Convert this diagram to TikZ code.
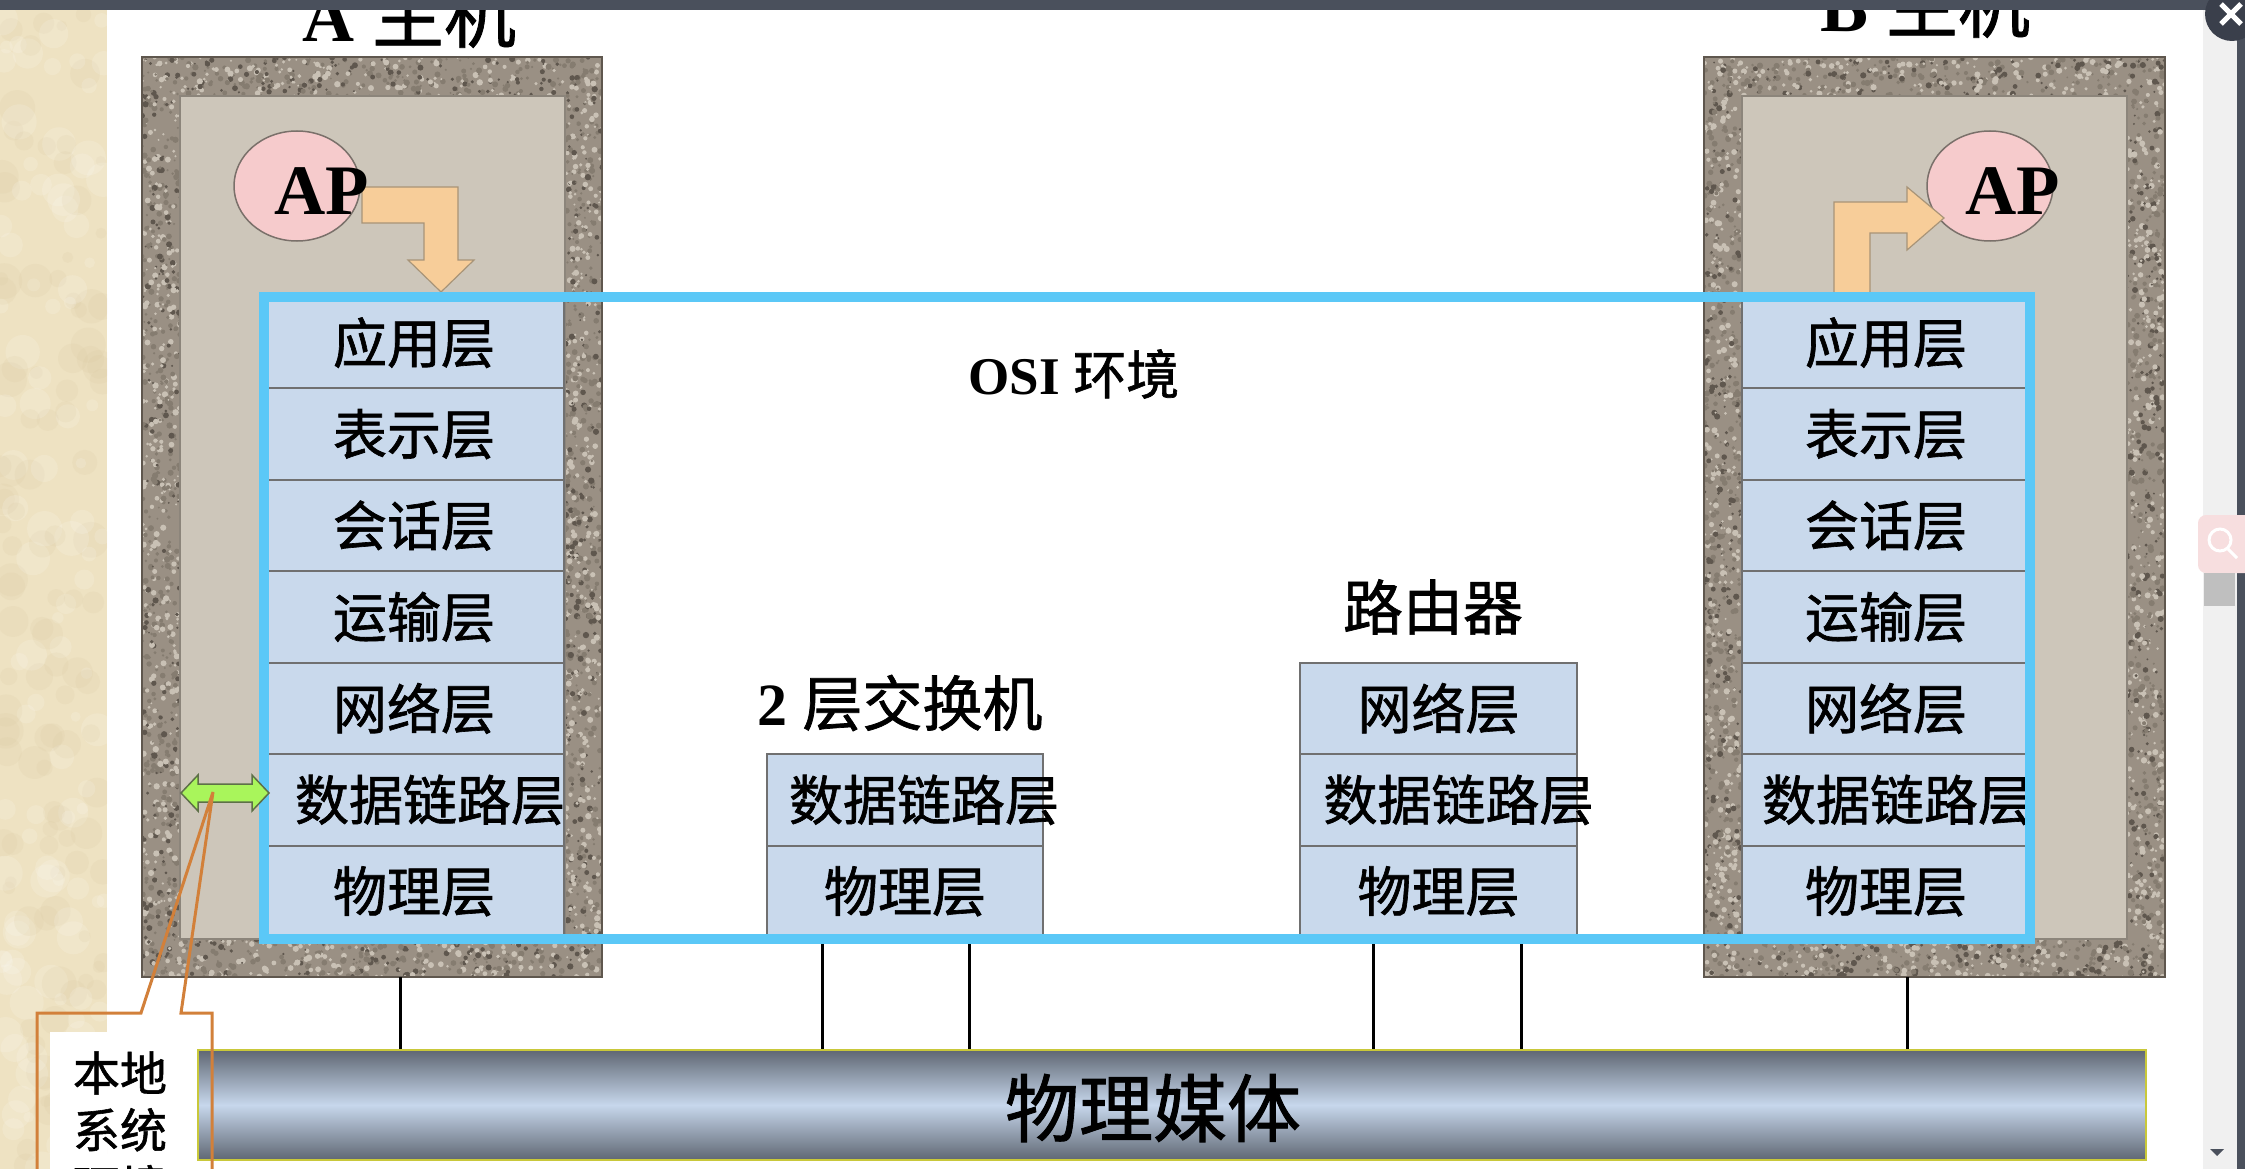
\documentclass[tikz,border=0pt]{standalone}
\usepackage{fontspec}
\setmainfont{Liberation Serif}
\newfontfamily\cjk[FakeBold=1.2]{Noto Sans CJK SC}
\usetikzlibrary{shapes.geometric}
\definecolor{beigeC}{HTML}{EEE2C2}
\definecolor{beigeD}{HTML}{D8C79F}
\definecolor{granBase}{HTML}{9A9084}
\definecolor{granL}{HTML}{C9C1B5}
\definecolor{granD}{HTML}{5F574E}
\definecolor{granM}{HTML}{857C70}
\definecolor{innerC}{HTML}{CDC6BA}
\definecolor{innerLine}{HTML}{8C857B}
\definecolor{layerfill}{HTML}{C9D9EC}
\definecolor{layerline}{HTML}{707070}
\definecolor{osiblue}{HTML}{5BC8F7}
\definecolor{apfill}{HTML}{F6CBCC}
\definecolor{apline}{HTML}{7A706A}
\definecolor{orfill}{HTML}{F7CD99}
\definecolor{orline}{HTML}{A89478}
\definecolor{greenF}{HTML}{A9F55B}
\definecolor{greenL}{HTML}{5E7048}
\definecolor{mediaTop}{HTML}{5F6773}
\definecolor{mediaMid}{HTML}{C7D7EC}
\definecolor{mediaLine}{HTML}{C9C83A}
\definecolor{calloutC}{HTML}{D2803A}
\definecolor{uidark}{HTML}{4A505C}
\definecolor{uilight}{HTML}{F0F0F0}
\definecolor{pinkui}{HTML}{F7DEDF}
\definecolor{closeC}{HTML}{3A3F4B}
\newcommand\granitestrip[5]{%
  \foreach \k in {1,...,#5}{%
    \pgfmathsetmacro\gx{#1+(#3-#1)*rnd}%
    \pgfmathsetmacro\gy{#2+(#4-#2)*rnd}%
    \pgfmathsetmacro\gr{1.0+2.2*rnd}%
    \pgfmathsetmacro\gc{rnd}%
    \ifdim\gc pt<0.38pt
      \fill[granL] (\gx,\gy) circle (\gr pt);
    \else\ifdim\gc pt<0.78pt
      \fill[granM] (\gx,\gy) circle (\gr pt);
    \else
      \fill[granD] (\gx,\gy) circle (\gr pt);
    \fi\fi
  }}
\tikzset{
  hostouter/.style={rectangle, fill=granBase, inner sep=0pt},
  hostborder/.style={draw=granD, line width=1.5pt},
  hostinner/.style={rectangle, fill=innerC, draw=innerLine, line width=1.5pt, inner sep=0pt},
  apcirc/.style={ellipse, fill=apfill, draw=apline, line width=1.5pt, minimum width=126pt, minimum height=110pt, inner sep=0pt},
  aptext/.style={font=\bfseries\fontsize{71}{80}\selectfont, inner sep=0pt},
  orarrow/.style={fill=orfill, draw=orline, line width=1.2pt},
  layerbox/.style={rectangle, draw=layerline, line width=2pt, fill=layerfill, minimum height=91.43pt, inner sep=0pt},
  layertext/.style={font=\cjk\fontsize{54}{60}\selectfont, inner sep=0pt},
  titletext/.style={font=\fontsize{60}{66}\selectfont, inner sep=0pt},
  osibox/.style={rectangle, draw=osiblue, line width=10pt, inner sep=0pt},
  conn/.style={draw=black, line width=3pt},
  media/.style={rectangle, top color=mediaTop, bottom color=mediaTop, middle color=mediaMid, draw=mediaLine, line width=2.5pt, inner sep=0pt},
  greenarrow/.style={fill=greenF, draw=greenL, line width=1.5pt},
  callout/.style={draw=calloutC, line width=3pt},
}
\begin{document}
\begin{tikzpicture}[x=1pt,y=-1pt]
\useasboundingbox (0,0) rectangle (2245,1169);
\fill[white] (0,0) rectangle (2245,1169);
% beige strip at the left
\fill[beigeC] (0,0) rectangle (107,1169);
\begin{scope}
  \clip (0,0) rectangle (107,1169);
  \pgfmathsetseed{3}
  \foreach \k in {1,...,220}{%
    \pgfmathsetmacro\gx{107*rnd}%
    \pgfmathsetmacro\gy{1169*rnd}%
    \pgfmathsetmacro\gr{5+13*rnd}%
    \pgfmathsetmacro\gc{rnd}%
    \ifdim\gc pt<0.5pt
      \fill[white,opacity=0.14] (\gx,\gy) circle (\gr pt);
    \else
      \fill[beigeD,opacity=0.16] (\gx,\gy) circle (\gr pt);
    \fi
  }
\end{scope}
\fill[white] (50,1032) rectangle (107,1169);

% ---------- host A ----------
\node[hostouter, minimum width=460pt, minimum height=920pt] (hostA) at (372,517) {};
\begin{scope}
  \clip (142,57) rectangle (602,977);
  \pgfmathsetseed{11}
  \granitestrip{142}{57}{180}{977}{900}
  \granitestrip{565}{57}{602}{977}{900}
  \granitestrip{180}{57}{565}{96}{380}
  \granitestrip{180}{939}{565}{977}{380}
\end{scope}
\draw[hostborder] (hostA.north west) rectangle (hostA.south east);
\node[hostinner, minimum width=385pt, minimum height=843pt] (innerA) at (372.5,517.5) {};

% ---------- host B ----------
\node[hostouter, minimum width=461pt, minimum height=920pt] (hostB) at (1934.5,517) {};
\begin{scope}
  \clip (1704,57) rectangle (2165,977);
  \pgfmathsetseed{23}
  \granitestrip{1704}{57}{1742}{977}{900}
  \granitestrip{2127}{57}{2165}{977}{900}
  \granitestrip{1742}{57}{2127}{96}{380}
  \granitestrip{1742}{939}{2127}{977}{380}
\end{scope}
\draw[hostborder] (hostB.north west) rectangle (hostB.south east);
\node[hostinner, minimum width=385pt, minimum height=843pt] (innerB) at (1934.5,517.5) {};

% ---------- AP circles and arrows ----------
\node[apcirc] (apA) at (297,186) {};
\node[apcirc] (apB) at (1990,186) {};
\draw[orarrow] (362,187) -- (458,187) -- (458,260) -- (474,260) -- (441,292)
  -- (408,260) -- (424,260) -- (424,223) -- (362,223) -- cycle;
\draw[orarrow] (1834,297) -- (1834,202) -- (1907,202) -- (1907,187) -- (1944,218)
  -- (1907,250) -- (1907,233) -- (1870,233) -- (1870,297) -- cycle;
\node[aptext] (apAt) at (322,191) {AP};
\node[aptext] (apBt) at (2013,191) {AP};

% ---------- layer stacks ----------
\foreach \i/\t/\dx in {1/应用层/0,2/表示层/0,3/会话层/0,4/运输层/0,5/网络层/0,6/数据链路层/16,7/物理层/0}{
  \node[layerbox, minimum width=300pt] (a\i) at (414,{297+91.43*(\i-0.5)}) {};
  \node[layertext] (a\i t) at ([xshift=\dx pt]a\i.center) {\t};
}
\foreach \i/\t/\dx in {1/应用层/0,2/表示层/0,3/会话层/0,4/运输层/0,5/网络层/0,6/数据链路层/11,7/物理层/0}{
  \node[layerbox, minimum width=288pt] (b\i) at (1886,{297+91.43*(\i-0.5)}) {};
  \node[layertext] (b\i t) at ([xshift=\dx pt]b\i.center) {\t};
}
% switch
\node[layerbox, minimum width=276pt] (s1) at (905,{297+91.43*5.5}) {};
\node[layertext] (s1t) at ([xshift=19pt]s1.center) {数据链路层};
\node[layerbox, minimum width=276pt] (s2) at (905,{297+91.43*6.5}) {};
\node[layertext] (s2t) at (s2.center) {物理层};
% router
\node[layerbox, minimum width=277pt] (r1) at (1438.5,{297+91.43*4.5}) {};
\node[layertext] (r1t) at (r1.center) {网络层};
\node[layerbox, minimum width=277pt] (r2) at (1438.5,{297+91.43*5.5}) {};
\node[layertext] (r2t) at ([xshift=20pt]r2.center) {数据链路层};
\node[layerbox, minimum width=277pt] (r3) at (1438.5,{297+91.43*6.5}) {};
\node[layertext] (r3t) at (r3.center) {物理层};

% ---------- physical medium and connectors ----------
\node[media, minimum width=1948pt, minimum height=110pt] (media) at (1172,1105) {};
\node[font=\cjk\fontsize{74}{80}\selectfont, inner sep=0pt] (mediat) at (1153,1108) {物理媒体};
\draw[conn] ([xshift=28pt]hostA.south) -- ([xshift=28pt]hostA.south |- media.north);
\draw[conn] ([xshift=-27.5pt]hostB.south) -- ([xshift=-27.5pt]hostB.south |- media.north);
\draw[conn] ([xshift=-83pt]s2.south) -- ([xshift=-83pt]s2.south |- media.north);
\draw[conn] ([xshift=64pt]s2.south) -- ([xshift=64pt]s2.south |- media.north);
\draw[conn] ([xshift=-65.5pt]r3.south) -- ([xshift=-65.5pt]r3.south |- media.north);
\draw[conn] ([xshift=82.5pt]r3.south) -- ([xshift=82.5pt]r3.south |- media.north);

% ---------- OSI environment frame ----------
\node[osibox, minimum width=1766pt, minimum height=642pt] (osi) at (1147,618) {};
\node[font=\fontsize{53}{60}\selectfont, inner sep=0pt] (osit) at (1074,374) {{\bfseries OSI} {\cjk 环境}};

% ---------- green double arrow and callout ----------
\draw[greenarrow] (181,793) -- (198,775) -- (198,784) -- (252,784) -- (252,775) -- (269,793)
  -- (252,811) -- (252,802) -- (198,802) -- (198,811) -- cycle;
\coordinate (tip) at (213,792);
\draw[callout] (37,1195) -- (37,1013) -- (141,1013) -- (tip) -- (181,1013) -- (212,1013) -- (212,1195);
\node[font=\cjk\fontsize{47}{57}\selectfont, align=center, inner sep=0pt] (callt) at (120,1130) {本地\\系统\\环境};

% ---------- titles ----------
\node[titletext, font=\fontsize{72}{80}\selectfont, anchor=base] (titleA) at (409,42) {{\bfseries A} {\cjk 主机}};
\node[titletext, font=\fontsize{72}{80}\selectfont, anchor=base] (titleB) at (1925,32) {{\bfseries B} {\cjk 主机}};
\node[titletext] (titleS) at (900,703) {{\bfseries 2} {\cjk 层交换机}};
\node[titletext] (titleR) at (1433,607) {{\cjk 路由器}};

% ---------- window chrome ----------
\fill[uidark] (0,0) rectangle (2245,10);
\fill[uilight] (2203,10) rectangle (2237,1169);
\fill[uidark] (2237,10) rectangle (2245,1169);
\fill[pinkui, rounded corners=8pt] (2198,515) rectangle (2262,573);
\draw[white, line width=3pt] (2220,540) circle (11pt);
\draw[white, line width=3pt] (2228,549) -- (2237,558);
\fill[black!25] (2204,573) rectangle (2235,606);
\fill[uidark] (2210,1149) -- (2224,1149) -- (2217,1156) -- cycle;
\fill[closeC] (2232,14) circle (27pt);
\draw[white, line width=5pt] (2221,4) -- (2241,24);
\draw[white, line width=5pt] (2241,4) -- (2221,24);
\end{tikzpicture}
\end{document}
